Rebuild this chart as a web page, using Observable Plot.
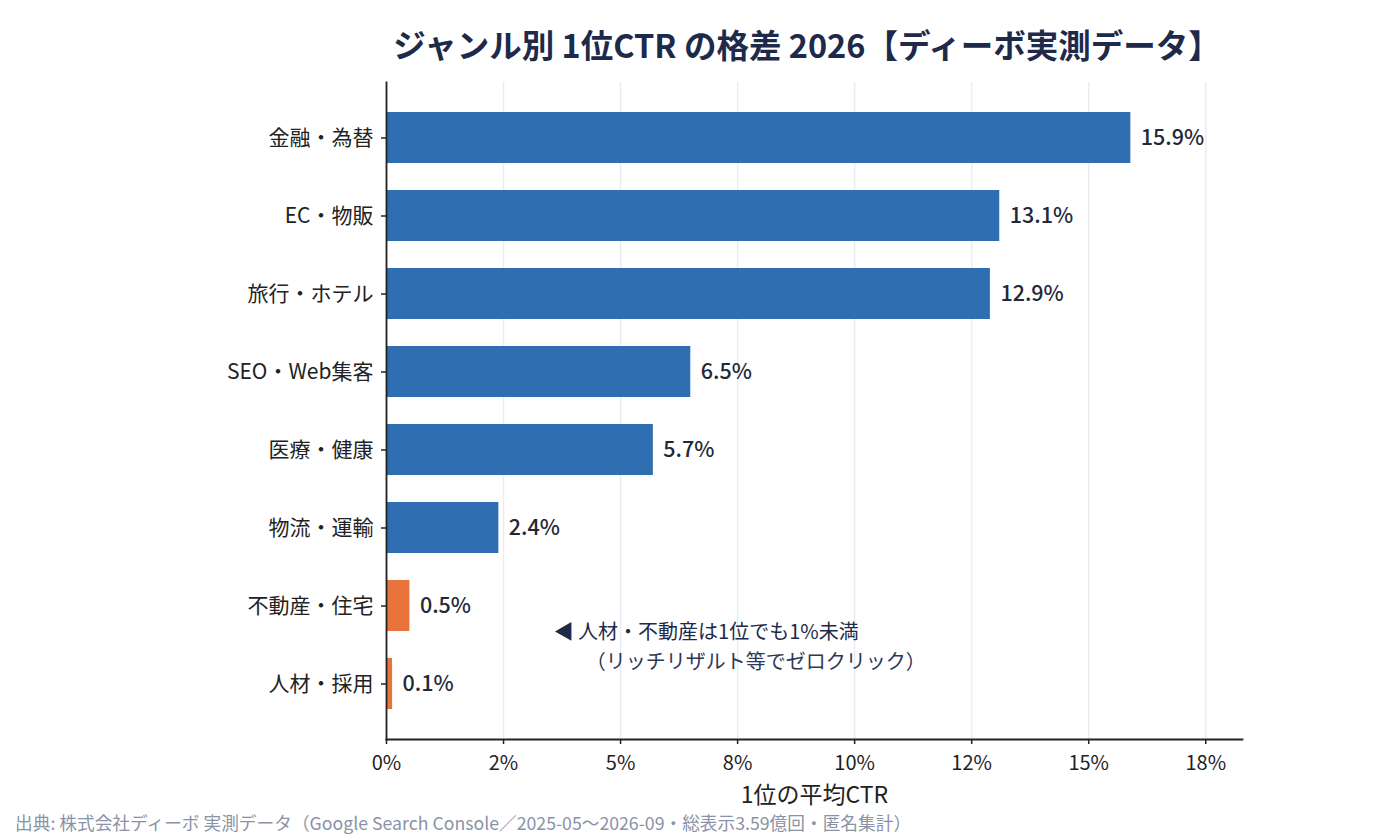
<!DOCTYPE html>
<html>
<head>
<meta charset="utf-8">
<script src="https://cdn.jsdelivr.net/npm/d3@7"></script>
<script src="https://cdn.jsdelivr.net/npm/@observablehq/plot@0.6"></script>
<style>
  html, body { margin: 0; padding: 0; background: #fff; }
  body { width: 1380px; height: 840px; overflow: hidden; font-family: "Noto Sans CJK JP", "Noto Sans", sans-serif; }
  #title { width: 1380px; box-sizing: border-box; padding-left: 234px; padding-top: 10px; height: 78px; line-height: 68px; text-align: center; font-size: 32.5px; font-weight: 700; color: #1e2a4a; }
  #chart { height: 732px; }
  #caption { padding-left: 15px; font-size: 17.7px; color: #8a93a6; line-height: 24px; margin-top: 0px; }
</style>
</head>
<body>
<div id="title"></div>
<div id="chart"></div>
<div id="caption"></div>
<script>
const titleText = "ジャンル別 1位CTR の格差 2026【ディーボ実測データ】";
const captionText = "出典: 株式会社ディーボ 実測データ（Google Search Console／2025-05〜2026-09・総表示3.59億回・匿名集計）";
const axisLabel = "1位の平均CTR";

const categories = ["金融・為替", "EC・物販", "旅行・ホテル", "SEO・Web集客", "医療・健康", "物流・運輸", "不動産・住宅", "人材・採用"];
const ctr = [15.9, 13.1, 12.9, 6.5, 5.7, 2.4, 0.5, 0.13];
const groups = ["high", "high", "high", "high", "high", "high", "low", "low"];

const xTicks = [0, 2.5, 5, 7.5, 10, 12.5, 15, 17.5];
const xTickLabels = ["0%", "2%", "5%", "8%", "10%", "12%", "15%", "18%"];
const xMax = 18.285;

const noteLine1 = "◀ 人材・不動産は1位でも1%未満";
const noteLine2 = "（リッチリザルト等でゼロクリック）";
const noteX = 3.57;
const noteCategory = "不動産・住宅";

const rows = categories.map((c, i) => ({category: c, value: ctr[i], group: groups[i], label: ctr[i].toFixed(1) + "%"}));
const notes = [{x: noteX, y: noteCategory, t1: noteLine1, t2: noteLine2}];

document.getElementById("title").textContent = titleText;
document.getElementById("caption").textContent = captionText;

const font = "Noto Sans CJK JP";

const plot = Plot.plot({
  width: 1380,
  height: 732,
  marginLeft: 386,
  marginRight: 138,
  marginTop: 4,
  marginBottom: 71,
  style: {fontFamily: font, background: "#fff", color: "#222"},
  x: {domain: [0, xMax], axis: null},
  y: {domain: categories, type: "band", paddingInner: 0.34, paddingOuter: 0.38, axis: null},
  color: {domain: ["high", "low"], range: ["#2f6eb0", "#e8743b"]},
  marks: [
    Plot.gridX(xTicks, {stroke: "#e9edf3", strokeOpacity: 1, strokeWidth: 1.5}),
    Plot.barX(rows, {x: "value", y: "category", fill: "group"}),
    Plot.text(rows, {x: "value", y: "category", text: "label", textAnchor: "start", dx: 10, fontSize: 21.5, fontWeight: 500, fill: "#1f2937"}),
    Plot.text(notes, {x: "x", y: "y", text: "t1", textAnchor: "start", dy: 27, fontSize: 20, fill: "#1e2a4a"}),
    Plot.text(notes, {x: "x", y: "y", text: "t2", textAnchor: "start", dx: 32, dy: 57, fontSize: 20, fill: "#2c3857"}),
    Plot.axisX({ticks: xTicks, tickFormat: (d) => xTickLabels[xTicks.indexOf(d)], tickSize: 5, tickPadding: 11, fontSize: 20, label: null, stroke: "#222", strokeWidth: 1.5, fill: "#222"}),
    Plot.axisY({tickSize: 5, tickPadding: 8, fontSize: 21, label: null, stroke: "#222", strokeWidth: 1.5, fill: "#222"}),
    Plot.text([axisLabel], {text: d => d, frameAnchor: "bottom", lineAnchor: "middle", dy: 56, fontSize: 23, fill: "#222"}),
    Plot.frame({anchor: "left", stroke: "#222", strokeWidth: 1.8}),
    Plot.frame({anchor: "bottom", stroke: "#222", strokeWidth: 1.8})
  ]
});
document.getElementById("chart").appendChild(plot);
</script>
</body>
</html>
